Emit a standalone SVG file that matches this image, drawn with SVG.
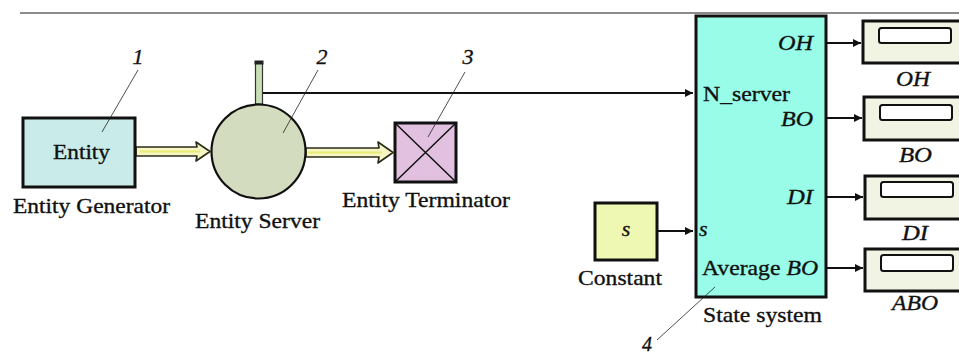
<svg xmlns="http://www.w3.org/2000/svg" width="959" height="354" viewBox="0 0 959 354">
  <defs>
    <marker id="arr" viewBox="0 0 10 10" refX="10" refY="5" markerWidth="10" markerHeight="8" markerUnits="userSpaceOnUse" orient="auto">
      <path d="M0,0 L10,5 L0,10 Z" fill="#111"/>
    </marker>
    <style>
      .t { font-family: "Liberation Serif", "Times New Roman", serif; font-size: 22px; fill: #111; stroke: #111; stroke-width: 0.35; }
      .i { font-style: italic; }
      .blk { stroke: #111; stroke-width: 3; }
      .sig { stroke: #111; stroke-width: 2; fill: none; marker-end: url(#arr); }
      .lead { stroke: #222; stroke-width: 0.8; fill: none; }
      .ent { fill: #f6f6c4; stroke: #2a2a18; stroke-width: 1.6; stroke-linejoin: round; }
      .disp { fill: #f1f4e2; stroke: #111; stroke-width: 3; }
      .win { fill: #ffffff; stroke: #111; stroke-width: 2; }
    </style>
  </defs>

  <rect width="959" height="354" fill="#ffffff"/>
  <line x1="20" y1="13" x2="959" y2="13" stroke="#666" stroke-width="1.5"/>

  <!-- connectors -->
  <g id="connectors">
    <polygon class="ent" points="136,147 197,147 196,142 210,151.5 196,161 197,156 136,156"/>
    <line x1="140" y1="151.5" x2="200" y2="151.5" stroke="#e8ec70" stroke-width="2"/>
    <polygon class="ent" points="306,148 379,148 378,142 393,152.5 378,163 379,157 306,157"/>
    <line x1="308" y1="152.5" x2="382" y2="152.5" stroke="#e8ec70" stroke-width="2"/>
    <path class="sig" d="M263,93 H693"/>
    <path class="sig" d="M658,231 H693"/>
    <path class="sig" d="M827,43 H861"/>
    <path class="sig" d="M827,118 H862"/>
    <path class="sig" d="M827,197 H863"/>
    <path class="sig" d="M827,268 H863"/>
  </g>

  <!-- Entity Generator -->
  <g id="entity-generator">
    <rect class="blk" x="23" y="118" width="112" height="69" fill="#c9ecea"/>
    <text class="t" x="53" y="159" textLength="57" lengthAdjust="spacingAndGlyphs">Entity</text>
    <text class="t" x="13" y="213" textLength="157" lengthAdjust="spacingAndGlyphs">Entity Generator</text>
  </g>

  <!-- Entity Server -->
  <g id="entity-server">
    <rect x="255.5" y="63" width="7" height="41" fill="#c9dfb6" stroke="#333" stroke-width="1.2"/>
    <rect x="254.5" y="60.5" width="9" height="4" fill="#222"/>
    <circle cx="258.5" cy="151.5" r="47" fill="#d3dcbe" stroke="#111" stroke-width="2.2"/>
    <text class="t" x="195" y="228" textLength="125" lengthAdjust="spacingAndGlyphs">Entity Server</text>
  </g>

  <!-- Entity Terminator -->
  <g id="entity-terminator">
    <rect class="blk" x="395" y="123" width="61" height="59" fill="#e2c1e0"/>
    <path d="M395,123 L456,182 M456,123 L395,182" stroke="#111" stroke-width="1.5"/>
    <text class="t" x="342" y="207" textLength="168" lengthAdjust="spacingAndGlyphs">Entity Terminator</text>
  </g>

  <!-- Constant -->
  <g id="constant">
    <rect class="blk" x="595" y="203" width="62" height="57" fill="#eff8b2"/>
    <text class="t i" x="626" y="236" text-anchor="middle">s</text>
    <text class="t" x="578" y="285" textLength="84" lengthAdjust="spacingAndGlyphs">Constant</text>
  </g>

  <!-- State system -->
  <g id="state-system">
    <rect class="blk" x="696" y="16" width="130" height="281" fill="#98fce8"/>
    <text class="t i" x="778" y="50" textLength="35" lengthAdjust="spacingAndGlyphs">OH</text>
    <text class="t" x="703" y="101" textLength="87" lengthAdjust="spacingAndGlyphs">N_server</text>
    <text class="t i" x="781" y="126" textLength="32" lengthAdjust="spacingAndGlyphs">BO</text>
    <text class="t i" x="787" y="204" textLength="26" lengthAdjust="spacingAndGlyphs">DI</text>
    <text class="t i" x="699" y="236">s</text>
    <text class="t" x="702" y="275" textLength="116" lengthAdjust="spacingAndGlyphs"><tspan>Average </tspan><tspan class="i">BO</tspan></text>
    <text class="t" x="703" y="322" textLength="119" lengthAdjust="spacingAndGlyphs">State system</text>
  </g>

  <!-- Displays -->
  <g id="display-oh">
    <rect class="disp" x="863" y="21" width="110" height="42"/>
    <rect class="win" x="879" y="28" width="72" height="15" rx="2.5"/>
    <text class="t i" x="896" y="86" textLength="34" lengthAdjust="spacingAndGlyphs">OH</text>
  </g>
  <g id="display-bo">
    <rect class="disp" x="864" y="97" width="110" height="43"/>
    <rect class="win" x="880" y="105" width="72" height="15" rx="2.5"/>
    <text class="t i" x="899" y="162" textLength="33" lengthAdjust="spacingAndGlyphs">BO</text>
  </g>
  <g id="display-di">
    <rect class="disp" x="865" y="176" width="110" height="43"/>
    <rect class="win" x="881" y="182" width="72" height="15" rx="2.5"/>
    <text class="t i" x="902" y="240" textLength="26" lengthAdjust="spacingAndGlyphs">DI</text>
  </g>
  <g id="display-abo">
    <rect class="disp" x="865" y="249" width="110" height="42"/>
    <rect class="win" x="881" y="255" width="72" height="16" rx="2.5"/>
    <text class="t i" x="892" y="310" textLength="46" lengthAdjust="spacingAndGlyphs">ABO</text>
  </g>

  <!-- callout numbers -->
  <g id="callouts">
    <text class="t i" x="138" y="64" text-anchor="middle">1</text>
    <path class="lead" d="M138,70 L102,132"/>
    <text class="t i" x="322" y="64" text-anchor="middle">2</text>
    <path class="lead" d="M318,70 L283,133"/>
    <text class="t i" x="468" y="64" text-anchor="middle">3</text>
    <path class="lead" d="M465,72 L428,137"/>
    <text class="t i" x="647" y="351" text-anchor="middle" style="font-size:20px">4</text>
    <path class="lead" d="M657,340 L715,287"/>
  </g>
</svg>
